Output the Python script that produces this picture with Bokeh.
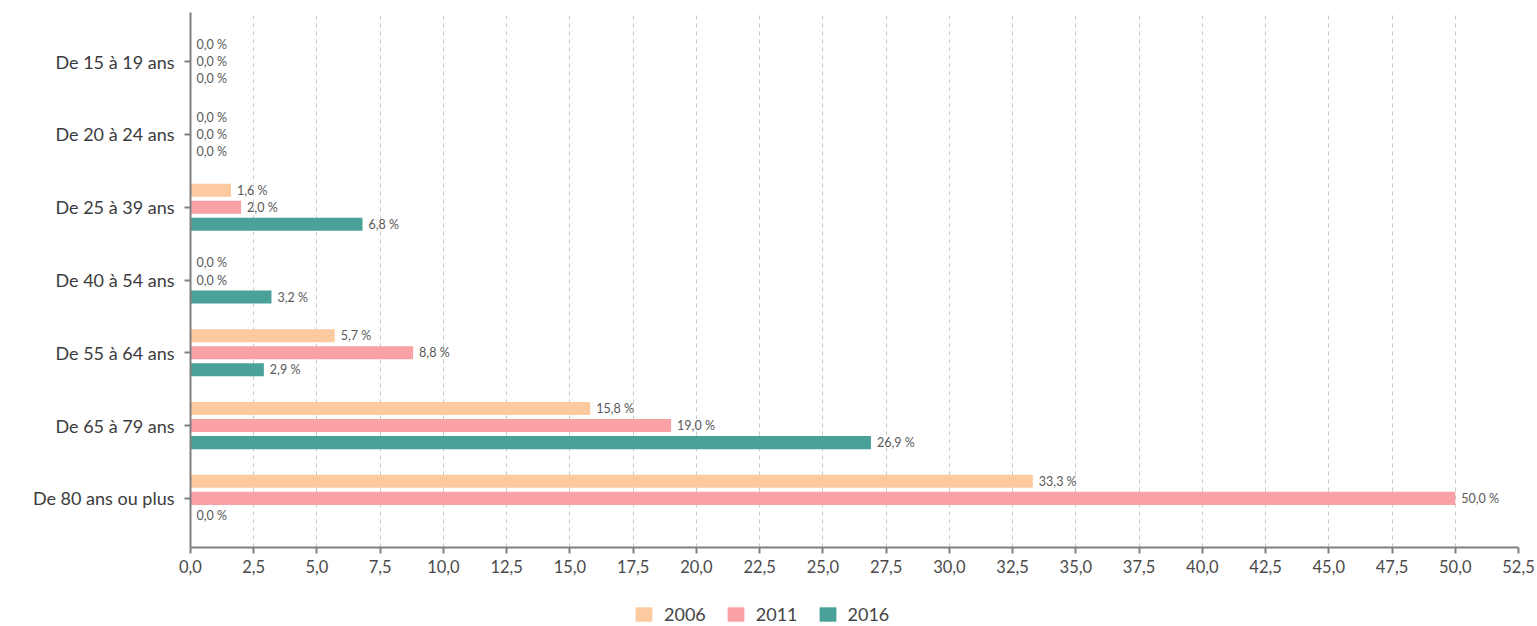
from bokeh.plotting import figure
from bokeh.layouts import column
from bokeh.models import (ColumnDataSource, FactorRange, Range1d, FixedTicker,
                          CustomJSTickFormatter, Legend, LegendItem)
from bokeh.transform import dodge
from bokeh.core.properties import value
from bokeh.embed import file_html
from bokeh.resources import INLINE

categories = ["De 15 à 19 ans", "De 20 à 24 ans", "De 25 à 39 ans", "De 40 à 54 ans",
              "De 55 à 64 ans", "De 65 à 79 ans", "De 80 ans ou plus"]
v2006 = [0.0, 0.0, 1.6, 0.0, 5.7, 15.8, 33.3]
v2011 = [0.0, 0.0, 2.0, 0.0, 8.8, 19.0, 50.0]
v2016 = [0.0, 0.0, 6.8, 3.2, 2.9, 26.9, 0.0]
series_names = ["2006", "2011", "2016"]
x_ticks = [0, 2.5, 5, 7.5, 10, 12.5, 15, 17.5, 20, 22.5, 25, 27.5, 30, 32.5, 35,
           37.5, 40, 42.5, 45, 47.5, 50, 52.5]

colors = ["#fdc99e", "#f9a1a4", "#4aa199"]
FONT = "Lato"


def fmt(v):
    return f"{v:.1f}".replace(".", ",") + " %"


src = ColumnDataSource(dict(
    cat=categories,
    v2006=v2006, v2011=v2011, v2016=v2016,
    l2006=[fmt(v) for v in v2006],
    l2011=[fmt(v) for v in v2011],
    l2016=[fmt(v) for v in v2016],
))

p = figure(width=1536, height=598, output_backend="svg", toolbar_location=None,
           y_range=FactorRange(factors=list(reversed(categories)), range_padding=0.05),
           x_range=Range1d(0, 52.5))
p.min_border_left = 190
p.min_border_right = 18
p.min_border_top = 12
p.min_border_bottom = 51
p.outline_line_color = None
p.background_fill_color = "white"
p.border_fill_color = "white"

offsets = [0.234, 0.0, -0.234]
for name, col, off in zip(series_names, colors, offsets):
    p.hbar(y=dodge("cat", off, range=p.y_range), left=0, right="v" + name,
           height=0.179, source=src, fill_color=col, line_color=None)
    p.text(x="v" + name, y=dodge("cat", off, range=p.y_range), text="l" + name,
           source=src, x_offset=6, text_baseline="middle", text_align="left",
           text_font=value(FONT), text_font_size="12.5px", text_color="#585858")

# grid
p.ygrid.grid_line_color = None
p.xgrid.ticker = FixedTicker(ticks=x_ticks)
p.xgrid.grid_line_color = "#c8c8c8"
p.xgrid.grid_line_dash = "4 4"
p.xgrid.grid_line_width = 1

# x axis
p.xaxis.ticker = FixedTicker(ticks=x_ticks)
p.xaxis.formatter = CustomJSTickFormatter(code="return tick.toFixed(1).replace('.', ',');")
p.xaxis.axis_line_color = "#808080"
p.xaxis.axis_line_width = 2
p.xaxis.major_tick_line_color = "#808080"
p.xaxis.major_tick_line_width = 2
p.xaxis.major_tick_in = 0
p.xaxis.major_tick_out = 6
p.xaxis.minor_tick_line_color = None
p.xaxis.major_label_text_font = FONT
p.xaxis.major_label_text_font_size = "16.5px"
p.xaxis.major_label_text_color = "#4a4a4a"
p.xaxis.major_label_standoff = 6

# y axis
p.yaxis.axis_line_color = "#808080"
p.yaxis.axis_line_width = 2
p.yaxis.major_tick_line_color = "#808080"
p.yaxis.major_tick_line_width = 2
p.yaxis.major_tick_in = 0
p.yaxis.major_tick_out = 6
p.yaxis.minor_tick_line_color = None
p.yaxis.major_label_text_font = FONT
p.yaxis.major_label_text_font_size = "18px"
p.yaxis.major_label_text_color = "#3c3c3c"
p.yaxis.major_label_standoff = 10

# legend strip (its frame is aligned with the main frame by the column layout)
lg = figure(width=1536, height=28, output_backend="svg", toolbar_location=None,
            x_range=Range1d(0, 1), y_range=Range1d(0, 1),
            x_axis_type=None, y_axis_type=None)
lg.min_border = 0
lg.outline_line_color = None
lg.xgrid.grid_line_color = None
lg.ygrid.grid_line_color = None
items = []
for name, col in zip(series_names, colors):
    # proxy glyph placed outside the visible range, only used for the legend swatch
    r = lg.hbar(y=-10, left=0, right=1, height=0.5, fill_color=col, line_color=None)
    items.append(LegendItem(label=name, renderers=[r]))
legend = Legend(items=items, orientation="horizontal", location=(443, 1))
legend.border_line_color = None
legend.background_fill_alpha = 0
legend.padding = 0
legend.margin = 0
legend.spacing = 19
legend.glyph_width = 21
legend.glyph_height = 18
legend.label_standoff = 10
legend.label_text_font = FONT
legend.label_text_font_size = "18px"
legend.label_text_color = "#444444"
legend.label_height = 18
lg.add_layout(legend, "center")

layout = column(p, lg, spacing=0)
open("out.html", "w").write(file_html(layout, INLINE))
